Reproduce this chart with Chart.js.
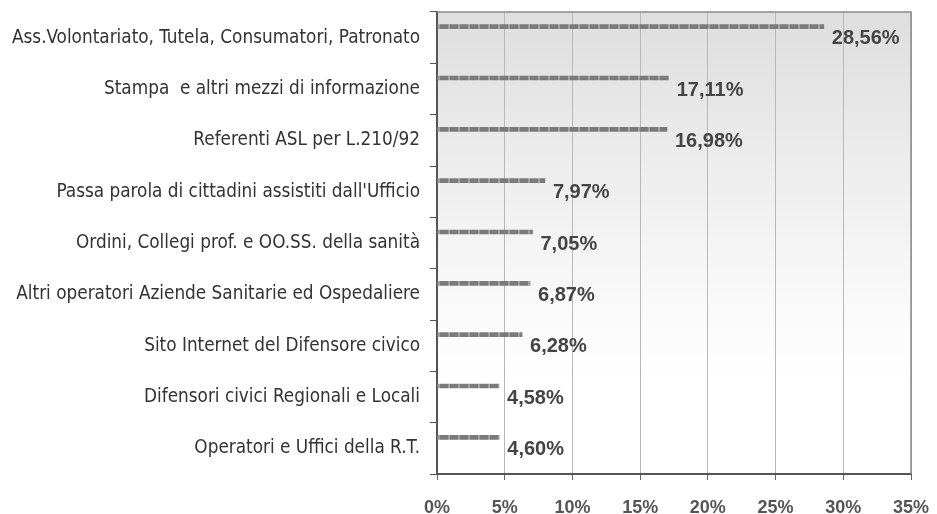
<!DOCTYPE html>
<html>
<head>
<meta charset="utf-8">
<script src="https://cdn.jsdelivr.net/npm/chart.js@4"></script>
<style>
  html, body { margin: 0; padding: 0; background: #fff; }
  #box { width: 937px; height: 514px; }
</style>
</head>
<body>
<div id="box"><canvas id="grafico"></canvas></div>
<script>
// dati
let categorie = [
  'Ass.Volontariato, Tutela, Consumatori, Patronato',
  'Stampa  e altri mezzi di informazione',
  'Referenti ASL per L.210/92',
  "Passa parola di cittadini assistiti dall'Ufficio",
  'Ordini, Collegi prof. e OO.SS. della sanità',
  'Altri operatori Aziende Sanitarie ed Ospedaliere',
  'Sito Internet del Difensore civico',
  'Difensori civici Regionali e Locali',
  'Operatori e Uffici della R.T.'
];
let percentuali = [28.56, 17.11, 16.98, 7.97, 7.05, 6.87, 6.28, 4.58, 4.60];
let tickX = [0, 5, 10, 15, 20, 25, 30, 35];

// trattini grigi come nella stampa
let trama = document.createElement('canvas');
trama.width = 10; trama.height = 4;
let tc = trama.getContext('2d');
tc.fillStyle = '#a0a0a0';
tc.fillRect(0, 0, 10, 4);
tc.fillStyle = '#7a7a7a';
tc.fillRect(0, 0, 8, 4);
let coloreBarre = document.getElementById('grafico').getContext('2d').createPattern(trama, 'repeat');

let sfondo = {
  id: 'sfondo',
  beforeDraw(chart) {
    let { ctx, chartArea: a } = chart;
    let g = ctx.createLinearGradient(0, a.top, 0, a.bottom);
    g.addColorStop(0, '#dedede');
    g.addColorStop(0.55, '#f6f6f6');
    g.addColorStop(0.8, '#ffffff');
    ctx.save();
    ctx.fillStyle = g;
    ctx.fillRect(a.left, a.top, a.right - a.left, a.bottom - a.top);
    ctx.restore();
  },
  afterDraw(chart) {
    let { ctx, chartArea: a } = chart;
    ctx.save();
    ctx.strokeStyle = '#8a8a8a';
    ctx.lineWidth = 1.5;
    ctx.beginPath();
    ctx.moveTo(a.left, a.top);
    ctx.lineTo(a.right, a.top);
    ctx.lineTo(a.right, a.bottom);
    ctx.stroke();
    ctx.restore();
  }
};

// barre spostate in alto nella fascia, etichetta al centro
let etichette = {
  id: 'etichette',
  afterDatasetsUpdate(chart) {
    chart.getDatasetMeta(0).data.forEach(b => {
      b.yCentro = b.y;
      b.y = b.y - 11;
    });
  },
  afterDatasetsDraw(chart) {
    let ctx = chart.ctx;
    ctx.save();
    ctx.font = 'bold 20px "Liberation Sans", Arial, sans-serif';
    ctx.fillStyle = '#444';
    ctx.textAlign = 'left';
    ctx.textBaseline = 'middle';
    chart.getDatasetMeta(0).data.forEach((b, i) => {
      let t = percentuali[i].toFixed(2).replace('.', ',') + '%';
      ctx.fillText(t, b.x + 8, b.yCentro + 1);
    });
    ctx.restore();
  }
};

let grafico = new Chart(document.getElementById('grafico').getContext('2d'), {
  type: 'bar',
  data: {
    labels: categorie,
    datasets: [{
      data: percentuali,
      backgroundColor: coloreBarre,
      borderWidth: 0,
      barThickness: 4
    }]
  },
  plugins: [sfondo, etichette],
  options: {
    indexAxis: 'y',
    responsive: true,
    maintainAspectRatio: false,
    animation: false,
    layout: { padding: { top: 12, right: 26, left: 0, bottom: 0 } },
    plugins: { legend: { display: false }, tooltip: { enabled: false } },
    scales: {
      x: {
        min: 0,
        max: 35,
        afterBuildTicks(s) { s.ticks = tickX.map(v => ({ value: v })); },
        afterFit(s) { s.height = 40; s.paddingLeft = 0; s.paddingRight = 0; },
        grid: { color: '#b8b8b8', lineWidth: 1, tickLength: 6, tickColor: '#666' },
        border: { color: '#555', width: 2 },
        ticks: {
          padding: 17,
          color: '#555',
          font: { family: '"Liberation Sans", Arial, sans-serif', size: 18, weight: 'bold' },
          callback: v => v + '%'
        }
      },
      y: {
        afterFit(s) { s.width = 437; s.paddingTop = 0; s.paddingBottom = 0; },
        grid: { offset: true, drawOnChartArea: false, tickLength: 7, tickColor: '#555' },
        border: { color: '#555', width: 2 },
        ticks: {
          padding: 10,
          color: '#333',
          font: { family: '"Liberation Sans Narrow", "DejaVu Sans Condensed", "Roboto Condensed", sans-serif', size: 18.8 }
        }
      }
    }
  }
});
</script>
</body>
</html>
